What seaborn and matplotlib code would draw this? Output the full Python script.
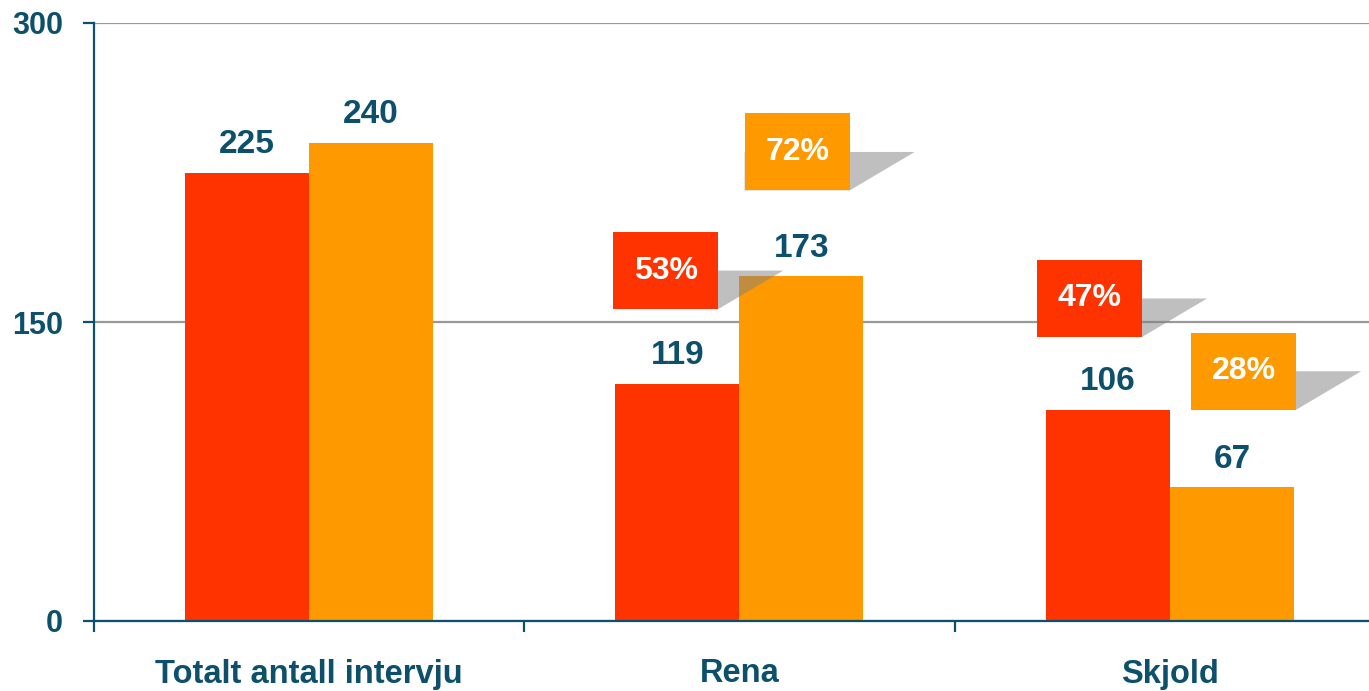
import matplotlib
matplotlib.use("Agg")
import matplotlib.pyplot as plt
import seaborn as sns
import pandas as pd
from matplotlib.patches import Rectangle, Polygon

# Data
kategorier = ["Totalt antall intervju", "Rena", "Skjold"]
serier = ["Serie 1", "Serie 2"]
serie_1 = [225, 119, 106]
serie_2 = [240, 173, 67]

# andeler vist i boksene (kategori-indeks, serie-indeks, prosent)
andel_kategori = [1, 1, 2, 2]
andel_serie = [0, 1, 0, 1]
andel_prosent = [53, 72, 47, 28]

y_ticks = [0, 150, 300]

# Style
sns.set_style("white")
plt.rcParams['font.family'] = ['Liberation Sans', 'DejaVu Sans']
plt.rcParams['font.weight'] = 'bold'

tekst_farge = '#0D506B'
farger = ['#FF3300', '#FF9900']

df = pd.DataFrame({
    'kategori': kategorier * 2,
    'serie': [serier[0]] * 3 + [serier[1]] * 3,
    'antall': serie_1 + serie_2,
})

fig = plt.figure(figsize=(13.69, 6.91), dpi=100)
ax = fig.add_axes([93.5 / 1369, 70 / 691, 1 - 93.5 / 1369, 598 / 691])

sns.barplot(data=df, x='kategori', y='antall', hue='serie', palette=farger,
            width=0.576, gap=0, saturation=1, legend=False, ax=ax,
            linewidth=0, err_kws={'linewidth': 0}, zorder=2)

ax.set_xlim(-0.5, 2.462)
ax.set_ylim(0, 300)
ax.set_yticks(y_ticks)
ax.set_xlabel('')
ax.set_ylabel('')

# Grid and spines
ax.yaxis.grid(True, color='#999999', linewidth=1.6)
ax.set_axisbelow(True)
for s in ['top', 'right']:
    ax.spines[s].set_visible(False)
for s in ['left', 'bottom']:
    ax.spines[s].set_color(tekst_farge)
    ax.spines[s].set_linewidth(1.6)

ax.tick_params(axis='y', which='major', left=True, direction='out', length=8,
               width=1.6, color=tekst_farge, labelcolor=tekst_farge,
               labelsize=22, pad=14)
ax.tick_params(axis='x', which='major', bottom=True, length=0,
               labelcolor=tekst_farge, labelsize=23.5, pad=27)
ax.set_xticks([-0.5, 0.5, 1.5], minor=True)
ax.tick_params(axis='x', which='minor', bottom=True, direction='out', length=8,
               width=1.6, color=tekst_farge)
for lbl in ax.get_xticklabels() + ax.get_yticklabels():
    lbl.set_fontweight('bold')

# Value labels
for cont in ax.containers:
    ax.bar_label(cont, fmt='%d', padding=9, fontsize=24, fontweight='bold',
                 color=tekst_farge)

# Percentage boxes with shadow
boks_dx = [-0.027, -0.01, -0.043, 0.027]
boks_dy = [37.5, 43, 36.5, 39]
boks_b = 0.244
boks_h = 38.6
skygge_b = 0.151

for k, s, p, dx, dy in zip(andel_kategori, andel_serie, andel_prosent, boks_dx, boks_dy):
    bar = ax.containers[s][k]
    xc = bar.get_x() + bar.get_width() / 2 + dx
    y0 = bar.get_height() + dy
    x0 = xc - boks_b / 2
    x1 = xc + boks_b / 2
    ym = y0 + boks_h / 2
    ax.add_patch(Polygon([(x0, ym), (x1 + skygge_b, ym), (x1, y0), (x0, y0)],
                         closed=True, facecolor='#808080', alpha=0.5,
                         edgecolor='none', zorder=3))
    ax.add_patch(Rectangle((x0, y0), boks_b, boks_h, facecolor=farger[s],
                           edgecolor='none', zorder=4))
    ax.text(xc, ym, f'{p}%', ha='center', va='center', color='white',
            fontsize=23, fontweight='bold', zorder=5)

plt.savefig('out.png', dpi=100)
